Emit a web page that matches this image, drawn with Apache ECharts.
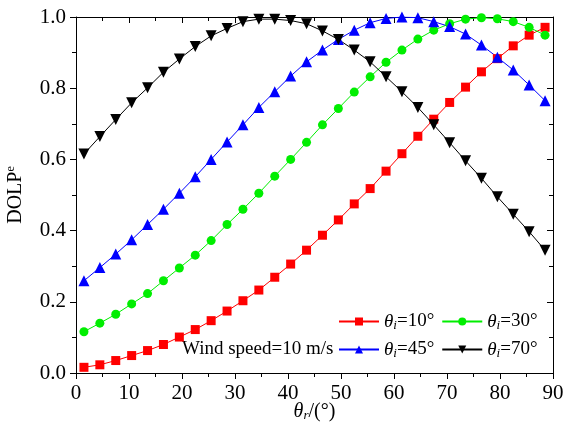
<!DOCTYPE html>
<html>
<head>
<meta charset="utf-8">
<script src="https://cdn.jsdelivr.net/npm/echarts@6/dist/echarts.min.js"></script>
<style>
  body{ margin:0; background:#fff; }
  #main{ width:563px; height:424px; }
</style>
</head>
<body>
<div id="main"></div>
<script>
  // 反射角 θr (°)
  var thetaR = [1.5,4.5,7.5,10.5,13.5,16.5,19.5,22.5,25.5,28.5,31.5,34.5,37.5,40.5,43.5,
                46.5,49.5,52.5,55.5,58.5,61.5,64.5,67.5,70.5,73.5,76.5,79.5,82.5,85.5,88.5];
  // DOLPe, θi = 10°
  var dolp10 = [0.016,0.023,0.035,0.049,0.063,0.080,0.101,0.122,0.147,0.174,0.203,0.233,0.269,0.306,0.345,
                0.387,0.430,0.475,0.518,0.567,0.616,0.665,0.713,0.760,0.803,0.846,0.883,0.919,0.949,0.971];
  // θi = 30°
  var dolp30 = [0.116,0.140,0.165,0.194,0.223,0.259,0.295,0.331,0.372,0.417,0.460,0.505,0.553,0.600,0.648,
                0.697,0.743,0.789,0.832,0.873,0.907,0.938,0.963,0.981,0.994,0.998,0.995,0.987,0.971,0.949];
  // θi = 45°
  var dolp45 = [0.259,0.296,0.334,0.374,0.417,0.460,0.505,0.551,0.600,0.649,0.697,0.746,0.790,0.834,0.874,
                0.907,0.937,0.963,0.984,0.996,1.000,0.998,0.987,0.973,0.952,0.921,0.887,0.851,0.809,0.765];
  // θi = 70°
  var dolp70 = [0.615,0.664,0.712,0.759,0.801,0.845,0.882,0.917,0.947,0.968,0.987,0.994,0.994,0.990,0.981,
                0.961,0.937,0.907,0.874,0.832,0.790,0.746,0.697,0.647,0.596,0.547,0.495,0.446,0.397,0.345];

  var xTicks = [0,10,20,30,40,50,60,70,80,90];
  var yTicks = [0.0,0.2,0.4,0.6,0.8,1.0];

  var FONT = '"Liberation Serif", "Times New Roman", serif';

  function pairs(ys){
    var out = [];
    for (var i = 0; i < thetaR.length; i++) out.push([thetaR[i], ys[i]]);
    return out;
  }

  function richTheta(size){
    return {
      t:{ fontFamily:FONT, fontSize:size, fontStyle:'italic', color:'#000' },
      s:{ fontFamily:FONT, fontSize:13, fontStyle:'italic', color:'#000', padding:[8,0,0,0] },
      n:{ fontFamily:FONT, fontSize:size, color:'#000' }
    };
  }

  function legendLabel(name){
    // name like "θi=10°"
    return '{t|θ}{s|i}{n|' + name.slice(2) + '}';
  }

  function makeSeries(name, ys, color, symbol, size, rotate){
    return {
      name: name,
      type: 'line',
      data: pairs(ys),
      symbol: symbol,
      symbolSize: size,
      symbolRotate: rotate || 0,
      showAllSymbol: true,
      itemStyle:{ color: color },
      lineStyle:{ color: color, width: 1 },
      emphasis:{ disabled:true },
      animation:false
    };
  }

  function valAxis(pos, show, isX){
    var ax = {
      type:'value',
      position: pos,
      min: 0,
      max: isX ? 90 : 1,
      interval: isX ? 10 : 0.2,
      axisLine:{ show:true, onZero:false, lineStyle:{ color:'#000', width:1 } },
      axisTick:{ show:true, inside: !show, length:6, lineStyle:{ color:'#000' } },
      minorTick:{ show:true, splitNumber:2, length:4, lineStyle:{ color:'#000' } },
      splitLine:{ show:false },
      axisLabel:{
        show: show,
        fontFamily: FONT, fontSize: 21, color:'#000',
        margin: 10,
        formatter: isX ? function(v){ return xTicks.indexOf(v) >= 0 ? String(v) : ''; }
                       : function(v){ return v.toFixed(1); }
      }
    };
    return ax;
  }

  var chart = echarts.init(document.getElementById('main'));
  var xBottom = valAxis('bottom', true, true);
  xBottom.name = '{t|θ}{s|r}{n|/(°)}';
  xBottom.nameLocation = 'middle';
  xBottom.nameGap = 28;
  xBottom.nameMoveOverlap = false;
  xBottom.nameTextStyle = { rich: richTheta(20) };

  var yLeft = valAxis('left', true, false);
  yLeft.name = '{n|DOLP}{e|e}';
  yLeft.nameLocation = 'middle';
  yLeft.nameRotate = 90;
  yLeft.nameGap = 50;
  yLeft.nameMoveOverlap = false;
  yLeft.nameTextStyle = { rich: {
    n:{ fontFamily:FONT, fontSize:20, color:'#000' },
    e:{ fontFamily:FONT, fontSize:12, color:'#000', padding:[0,0,9,0] }
  }};

  chart.setOption({
    backgroundColor:'#fff',
    grid:{ left:76, right:10, top:17, bottom:51, containLabel:false, outerBoundsMode:'none' },
    xAxis:[ xBottom, valAxis('top', false, true) ],
    yAxis:[ yLeft, valAxis('right', false, false) ],
    legend:[
      {
        data:['θi=10°','θi=30°'],
        left:333, top:307,
        itemWidth:40, itemHeight:10, itemGap:7,
        formatter: legendLabel,
        textStyle:{ rich: richTheta(19) },
        selectedMode:false
      },
      {
        data:['θi=45°','θi=70°'],
        left:333, top:335,
        itemWidth:40, itemHeight:10, itemGap:7,
        formatter: legendLabel,
        textStyle:{ rich: richTheta(19) },
        selectedMode:false
      }
    ],
    graphic:[{
      type:'text',
      left:182, top:340,
      style:{ text:'Wind speed=10 m/s', fontFamily:FONT, fontSize:19, fill:'#000' }
    }],
    series:[
      makeSeries('θi=10°', dolp10, '#ff0000', 'rect', 9),
      makeSeries('θi=30°', dolp30, '#00ee00', 'circle', 9),
      makeSeries('θi=45°', dolp45, '#0000ff', 'triangle', 11),
      makeSeries('θi=70°', dolp70, '#000000', 'triangle', 11, 180)
    ]
  });
</script>
</body>
</html>
